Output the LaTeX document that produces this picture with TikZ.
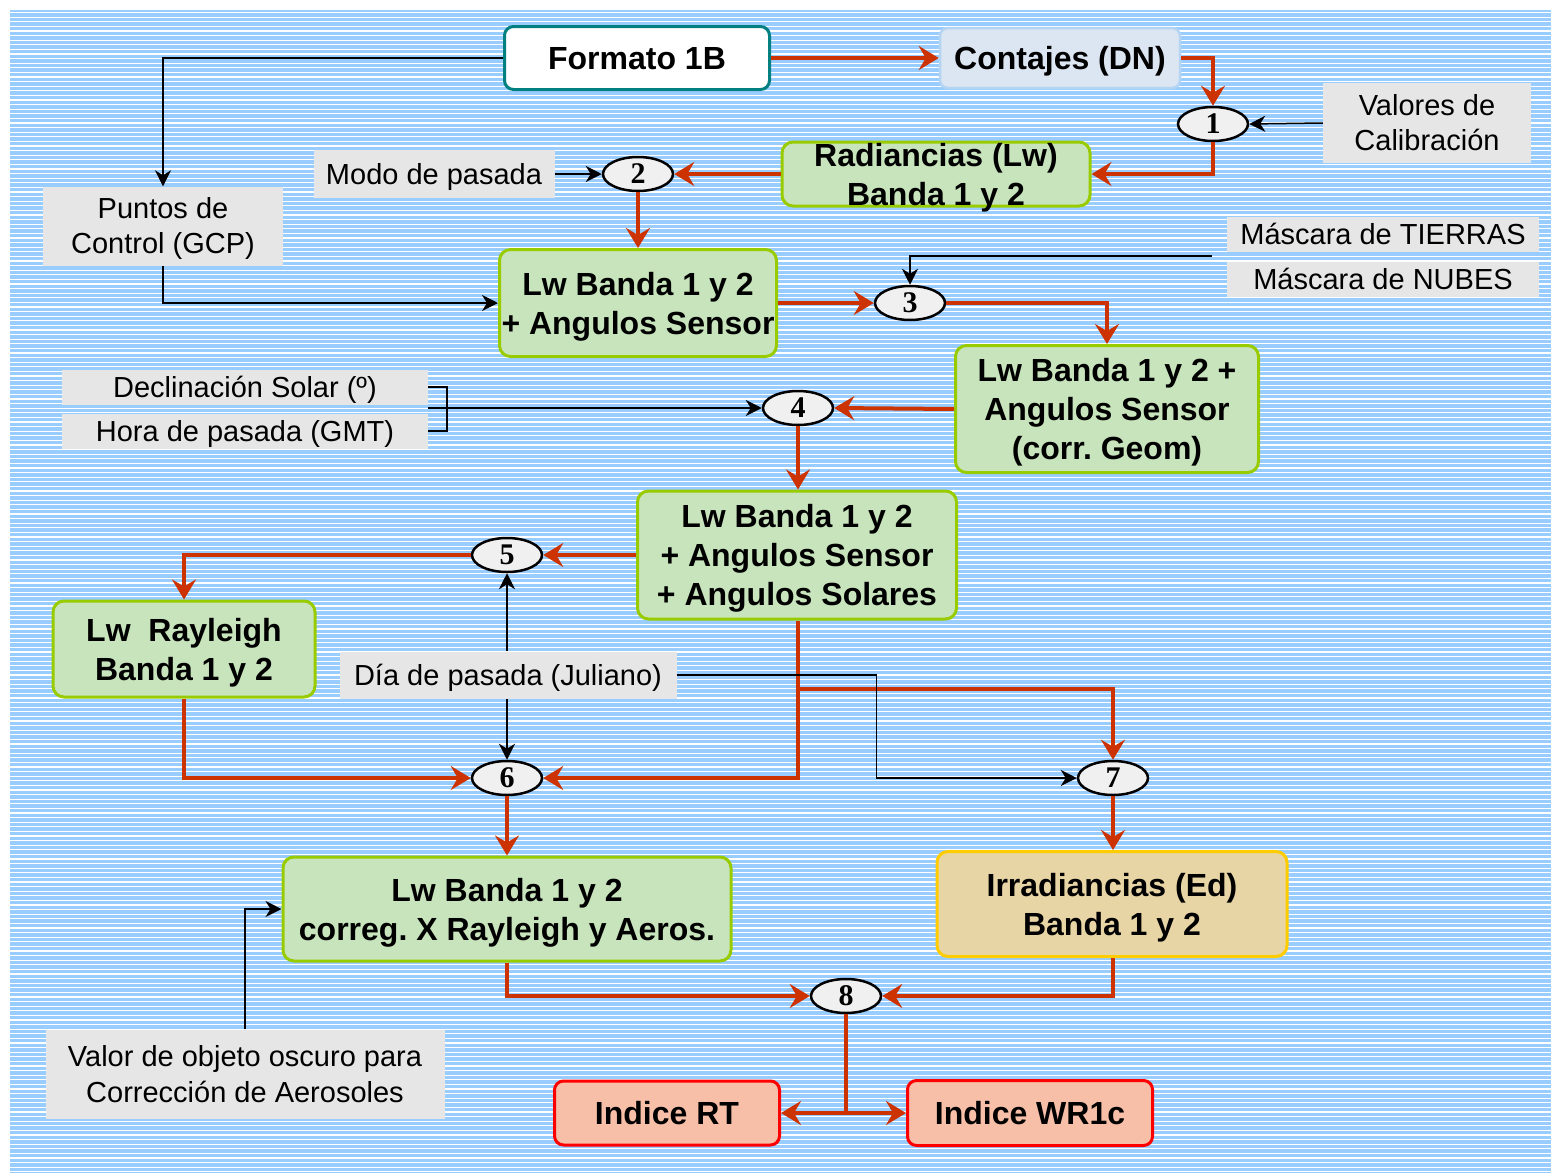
\documentclass[tikz,border=0pt]{standalone}
\usepackage{fontspec}
\setmainfont{Liberation Sans}
\newfontfamily\numfont{Liberation Serif}
\usetikzlibrary{arrows.meta,shapes.geometric,calc}
\frenchspacing
\definecolor{bgblue}{HTML}{99CCFF}
\definecolor{grfill}{HTML}{C8E4BC}
\definecolor{grline}{HTML}{99CC00}
\definecolor{teal1}{HTML}{008080}
\definecolor{cfill}{HTML}{DCE6F2}
\definecolor{cline}{HTML}{B4D4F4}
\definecolor{tanfill}{HTML}{E8D5A5}
\definecolor{tanline}{HTML}{FFCC00}
\definecolor{salfill}{HTML}{F8BFA8}
\definecolor{salline}{HTML}{FF0000}
\definecolor{grayfill}{HTML}{E6E6E6}
\definecolor{arrred}{HTML}{CC3300}
\definecolor{ellfill}{HTML}{F0F0F0}
\newcommand\boxtxt[1]{\raisebox{-4pt}[\height][\depth]{\begin{tabular}{@{}c@{}}#1\end{tabular}}}
\newcommand\graytxt[1]{\raisebox{-3pt}[\height][\depth]{\begin{tabular}{@{}c@{}}#1\end{tabular}}}
\tikzset{
  boldtxt/.style={font=\fontsize{32}{39}\selectfont\bfseries, text=black, inner sep=0pt},
  regtxt/.style={font=\fontsize{29}{35}\selectfont, text=black, inner sep=0pt},
  greenbox/.style={boldtxt, rectangle, rounded corners=11pt, fill=grfill, draw=grline, line width=3pt},
  graybox/.style={regtxt, rectangle, fill=grayfill},
  ell/.style={ellipse, draw=black, fill=ellfill, line width=2.5pt, minimum width=70pt, minimum height=34pt, inner sep=0pt, font=\fontsize{30}{30}\selectfont\numfont\bfseries},
  redarr/.style={draw=arrred, line width=4pt, -{Stealth[length=20pt,width=24pt,inset=7pt]}},
  blkarr/.style={draw=black, line width=1.5pt, -{Stealth[length=16pt,width=16pt,inset=5pt]}},
  blkline/.style={draw=black, line width=1.5pt}
}
\begin{document}
\begin{tikzpicture}[x=1pt,y=-1pt]
\useasboundingbox (0,0) rectangle (1551,1173);
% background
\fill[bgblue] (10,10) rectangle (1551,1173);
\foreach \i in {0,...,252} {
  \draw[white, line width=1.2pt] (10,{12.5+\i*4.6}) -- (1551,{12.5+\i*4.6});
}
% nodes
\node[boldtxt, rectangle, rounded corners=9pt, fill=white, draw=teal1, line width=3pt, minimum width=265pt, minimum height=63pt] (formato) at (637,58) {\boxtxt{Formato 1B}};
\node[boldtxt, rectangle, rounded corners=8pt, fill=cfill, draw=cline, line width=2.5pt, minimum width=240pt, minimum height=60pt] (contajes) at (1060,58) {\boxtxt{Contajes (DN)}};
\node[ell] (e1) at (1213,124) {1};
\node[graybox, minimum width=208pt, minimum height=80pt] (valores) at (1427,123) {\graytxt{Valores de\\Calibración}};
\node[greenbox, minimum width=308pt, minimum height=64pt, inner ysep=-7pt] (radiancias) at (936,174) {\boxtxt{Radiancias (Lw)\\Banda 1 y 2}};
\node[ell] (e2) at (638,174) {2};
\node[graybox, minimum width=241pt, minimum height=48pt] (modo) at (434,174) {\graytxt{Modo de pasada}};
\node[graybox, minimum width=240pt, minimum height=79pt] (puntos) at (163,226) {\graytxt{Puntos de\\Control (GCP)}};
\node[greenbox, minimum width=277pt, minimum height=107pt] (lw1) at (638,303) {\boxtxt{Lw Banda 1 y 2\\+ Angulos Sensor}};
\node[ell] (e3) at (910,303) {3};
\node[graybox, minimum width=312pt, minimum height=35pt] (tierras) at (1383,234) {\graytxt{Máscara de TIERRAS}};
\node[graybox, minimum width=312pt, minimum height=34pt] (nubes) at (1383,279) {\graytxt{Máscara de NUBES}};
\coordinate (mk) at (1212,256);
\node[greenbox, minimum width=303pt, minimum height=127pt] (geom) at (1107,409) {\boxtxt{Lw Banda 1 y 2 +\\Angulos Sensor\\(corr. Geom)}};
\node[ell] (e4) at (798,408) {4};
\node[graybox, minimum width=366pt, minimum height=34pt] (decl) at (245,387) {\graytxt{Declinación Solar (º)}};
\node[graybox, minimum width=366pt, minimum height=33pt] (hora) at (245,431) {\graytxt{Hora de pasada (GMT)}};
\coordinate (br) at (428,408);
\node[greenbox, minimum width=319pt, minimum height=128pt] (solar) at (797,555) {\boxtxt{Lw Banda 1 y 2\\+ Angulos Sensor\\+ Angulos Solares}};
\node[ell] (e5) at (507,555) {5};
\node[greenbox, minimum width=262pt, minimum height=96pt] (ray) at (184,649) {\boxtxt{Lw~~Rayleigh\\Banda 1 y 2}};
\node[graybox, minimum width=337pt, minimum height=47pt] (dia) at (508,675) {\graytxt{Día de pasada (Juliano)}};
\node[ell] (e6) at (507,778) {6};
\node[ell] (e7) at (1113,778) {7};
\coordinate (br7) at (798,689);
\node[greenbox, minimum width=448pt, minimum height=104pt] (corr) at (507,909) {\boxtxt{Lw Banda 1 y 2\\correg. X Rayleigh y Aeros.}};
\node[boldtxt, rectangle, rounded corners=11pt, fill=tanfill, draw=tanline, line width=3pt, minimum width=350pt, minimum height=105pt] (irr) at (1112,904) {\boxtxt{Irradiancias (Ed)\\Banda 1 y 2}};
\node[ell] (e8) at (846,996) {8};
\node[graybox, minimum width=399pt, minimum height=89pt, font=\fontsize{29}{36}\selectfont] (valor) at (245,1074) {\graytxt{Valor de objeto oscuro para\\Corrección de Aerosoles}};
\node[boldtxt, rectangle, rounded corners=9pt, fill=salfill, draw=salline, line width=3pt, minimum width=225pt, minimum height=64pt] (rt) at (667,1113) {\boxtxt{Indice RT}};
\node[boldtxt, rectangle, rounded corners=9pt, fill=salfill, draw=salline, line width=3pt, minimum width=245pt, minimum height=65pt] (wr) at (1030,1113) {\boxtxt{Indice WR1c}};
% connectors
\draw[redarr] (formato.east) -- (contajes.west);
\draw[redarr] (contajes.east) -| (e1.north);
\draw[blkarr] (valores.west) -- (e1.east);
\draw[redarr] (e1.south) |- (radiancias.east);
\draw[redarr] (radiancias.west) -- (e2.east);
\draw[blkarr] (modo.east) -- (e2.west);
\draw[redarr] (e2.south) -- (lw1.north);
\draw[blkarr] (formato.west) -| (puntos.north);
\draw[blkarr] (puntos.south) |- (lw1.west);
\draw[redarr] (lw1.east) -- (e3.west);
\draw[blkarr] (mk) -| (e3.north);
\draw[redarr] (e3.east) -| (geom.north);
\draw[redarr] (geom.west) -- (e4.east);
\draw[blkline] (decl.east) -- ++(19,0) |- (hora.east);
\draw[blkarr] (br) -- (e4.west);
\draw[redarr] (e4.south) -- (e4.south |- solar.north);
\draw[redarr] (solar.west) -- (e5.east);
\draw[redarr] (e5.west) -| (ray.north);
\draw[blkarr] (dia.north -| e5.south) -- (e5.south);
\draw[blkarr] (dia.south -| e6.north) -- (e6.north);
\draw[redarr] (ray.south) |- (e6.west);
\draw[redarr] (e4.south |- solar.south) |- (e6.east);
\draw[redarr] (br7) -| (e7.north);
\draw[blkarr] (dia.east) -- ++(200,0) |- (e7.west);
\draw[redarr] (e7.south) -- (e7.south |- irr.north);
\draw[redarr] (e6.south) -- (corr.north);
\draw[redarr] (corr.south) |- (e8.west);
\draw[redarr] (e7.south |- irr.south) |- (e8.east);
\draw[redarr] (e8.south) |- (rt.east);
\draw[redarr] (e8.south) |- (wr.west);
\draw[blkarr] (valor.north) |- (corr.west);
\end{tikzpicture}
\end{document}
